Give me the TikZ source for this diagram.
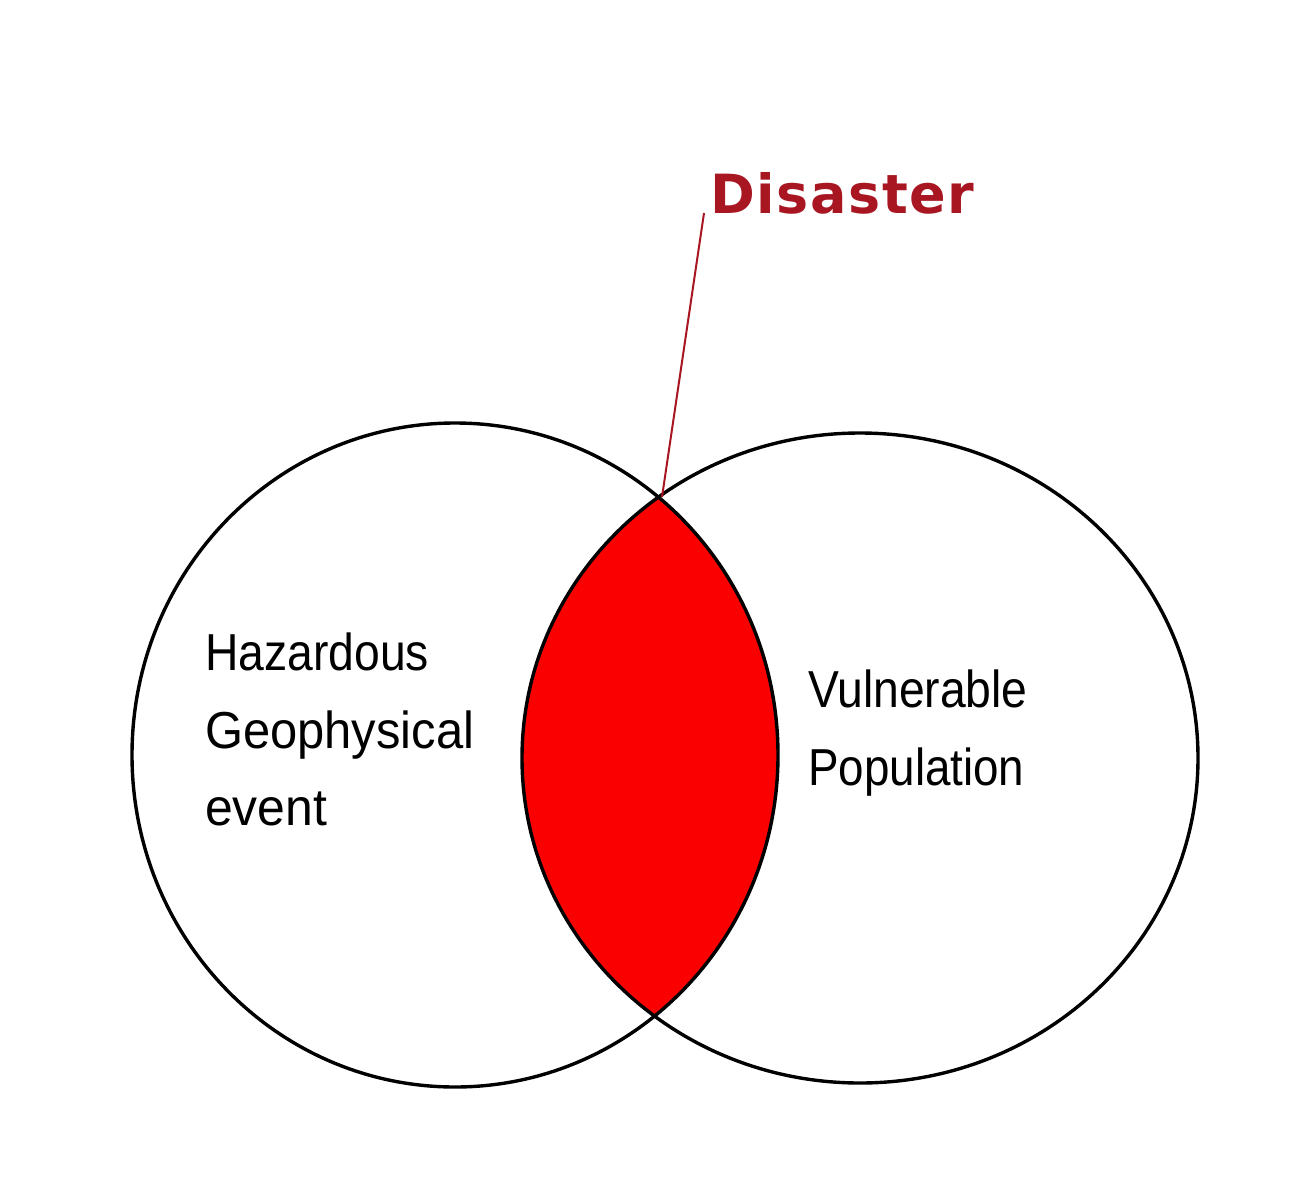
\documentclass[tikz,border=0pt]{standalone}
\usepackage{fontspec}
\setmainfont{Liberation Sans}
\newfontfamily\disfont[LetterSpace=3]{DejaVu Sans}
\definecolor{disred}{RGB}{168,22,34}
\definecolor{lensred}{RGB}{250,0,0}
\begin{document}
\begin{tikzpicture}[x=1pt,y=-1pt,
  ring/.style={draw=black,line width=3.4pt},
  lbl/.style={anchor=base west,inner sep=0pt,font=\fontsize{52}{60}\selectfont},
  callout/.style={draw=disred,line width=2pt}]
\useasboundingbox (0,0) rectangle (1298,1200);
\fill[white] (0,0) rectangle (1298,1200);
\begin{scope}
  \clip (455,755) ellipse [x radius=323, y radius=332];
  \fill[lensred] (860,758) ellipse [x radius=338, y radius=325];
\end{scope}
\draw[ring] (455,755) ellipse [x radius=323, y radius=332];
\draw[ring] (860,758) ellipse [x radius=338, y radius=325];
\node[lbl] (haz) at (205,670) {\scalebox{0.89}[1]{Hazardous}};
\node[lbl] (geo) at (205,748) {\scalebox{0.94}[1]{Geophysical}};
\node[lbl] (evt) at (205,825) {\scalebox{0.96}[1]{event}};
\node[lbl] (vul) at (808,707) {\scalebox{0.89}[1]{Vulnerable}};
\node[lbl] (pop) at (808,785) {\scalebox{0.88}[1]{Population}};
\node[anchor=base west,inner sep=0pt,text=disred,font=\disfont\bfseries\fontsize{54}{60}\selectfont] (dis) at (710,213) {Disaster};
\coordinate (lensTop) at (662,497);
\coordinate (calloutEnd) at ([xshift=-6pt]dis.base west);
\draw[callout] (calloutEnd) -- (lensTop);
\end{tikzpicture}
\end{document}
